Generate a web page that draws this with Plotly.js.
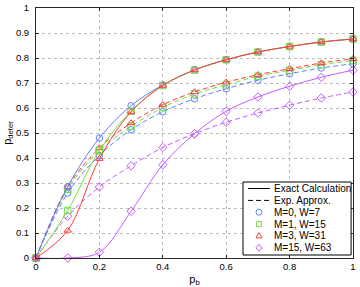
<!DOCTYPE html>
<html>
<head>
<meta charset="utf-8">
<script src="https://cdn.plot.ly/plotly-3.0.1.min.js"></script>
<style>html,body{margin:0;padding:0;background:#fff;}#chart{width:360px;height:287px;}</style>
</head>
<body>
<div id="chart"></div>
<script>
// ---- data ----
const pb = [0, 0.1, 0.2, 0.3, 0.4, 0.5, 0.6, 0.7, 0.8, 0.9, 1.0];

const exactM0  = [0, 0.285, 0.480, 0.609, 0.692, 0.752, 0.793, 0.824, 0.846, 0.864, 0.876];
const exactM1  = [0, 0.190, 0.430, 0.587, 0.690, 0.752, 0.793, 0.824, 0.846, 0.864, 0.876];
const exactM3  = [0, 0.110, 0.397, 0.585, 0.690, 0.752, 0.793, 0.824, 0.846, 0.864, 0.876];
const exactM15 = [0, 0.000, 0.023, 0.187, 0.373, 0.497, 0.587, 0.644, 0.687, 0.723, 0.751];

const approxM0  = [0, 0.260, 0.410, 0.513, 0.585, 0.637, 0.677, 0.711, 0.737, 0.760, 0.777];
const approxM1  = [0, 0.275, 0.430, 0.527, 0.602, 0.656, 0.693, 0.727, 0.751, 0.773, 0.790];
const approxM3  = [0, 0.285, 0.440, 0.540, 0.613, 0.664, 0.703, 0.733, 0.757, 0.780, 0.797];
const approxM15 = [0, 0.167, 0.284, 0.369, 0.442, 0.497, 0.543, 0.580, 0.611, 0.640, 0.664];

const seriesNames = ["M=0, W=7", "M=1, W=15", "M=3, W=31", "M=15, W=63"];
const lineNames = ["Exact Calculation", "Exp. Approx."];
const xTicks = [0, 0.2, 0.4, 0.6, 0.8, 1];
const xTickText = ["0", "0.2", "0.4", "0.6", "0.8", "1"];
const yTicks = [0, 0.1, 0.2, 0.3, 0.4, 0.5, 0.6, 0.7, 0.8, 0.9, 1];
const yTickText = ["0", "0.1", "0.2", "0.3", "0.4", "0.5", "0.6", "0.7", "0.8", "0.9", "1"];

// ---- styles ----
const colors = ["#5f80ff", "#72e03c", "#ff3b3b", "#c55cff"];
const symbols = ["circle-open", "square-open", "triangle-up-open", "diamond-open"];
const exact = [exactM0, exactM1, exactM3, exactM15];
const approx = [approxM0, approxM1, approxM3, approxM15];
const DASH = "5px,3px";

const traces = [];
for (let i = 0; i < 4; i++) {
  traces.push({
    x: pb, y: approx[i], type: "scatter", mode: "lines+markers",
    line: {color: colors[i], width: 1, dash: DASH, shape: "spline", smoothing: 1},
    marker: {symbol: symbols[i], size: 6.5, color: colors[i], line: {width: 1, color: colors[i]}},
    showlegend: false, hoverinfo: "skip", cliponaxis: false
  });
}
for (let i = 0; i < 4; i++) {
  traces.push({
    x: pb, y: exact[i], type: "scatter", mode: "lines+markers",
    line: {color: colors[i], width: 1, shape: "spline", smoothing: 1},
    marker: {symbol: symbols[i], size: 6.5, color: colors[i], line: {width: 1, color: colors[i]}},
    showlegend: false, hoverinfo: "skip", cliponaxis: false
  });
}

// ---- custom legend (layout geometry) ----
const L = {x0: 0.653, x1: 0.994, y0: 0.012, y1: 0.304,
           lx0: 0.669, lx1: 0.738, mx: 0.7035, tx: 0.746,
           rows: [0.278, 0.2304, 0.1832, 0.1356, 0.0884, 0.0408]};
const shapes = [
  {type: "rect", xref: "paper", yref: "paper", x0: L.x0, x1: L.x1, y0: L.y0, y1: L.y1,
   line: {color: "#000", width: 1}, fillcolor: "#fff", layer: "above"},
  {type: "line", xref: "paper", yref: "paper", x0: L.lx0, x1: L.lx1, y0: L.rows[0], y1: L.rows[0],
   line: {color: "#000", width: 1}, layer: "above"},
  {type: "line", xref: "paper", yref: "paper", x0: L.lx0, x1: L.lx1, y0: L.rows[1], y1: L.rows[1],
   line: {color: "#000", width: 1, dash: DASH}, layer: "above"}
];
const markerPaths = [
  null,
  "M-2.5,-2.5L2.5,-2.5L2.5,2.5L-2.5,2.5Z",
  "M0,3.3L3,-2L-3,-2Z",
  "M0,3.5L3,0L0,-3.5L-3,0Z"
];
for (let i = 0; i < 4; i++) {
  const base = {xref: "paper", yref: "paper", xsizemode: "pixel", ysizemode: "pixel",
    xanchor: L.mx, yanchor: L.rows[i + 2], line: {color: colors[i], width: 1}, layer: "above"};
  if (i === 0) shapes.push(Object.assign({type: "circle", x0: -3, x1: 3, y0: -3, y1: 3}, base));
  else shapes.push(Object.assign({type: "path", path: markerPaths[i]}, base));
}
const legendLabels = lineNames.concat(seriesNames);
const annotations = legendLabels.map((t, k) => ({
  text: t, xref: "paper", yref: "paper", x: L.tx, y: L.rows[k],
  xanchor: "left", yanchor: "middle", showarrow: false,
  font: {family: "Liberation Sans, Arial, sans-serif", size: 10, color: "#000"}
}));

const axisCommon = {
  range: [0, 1], showgrid: true, gridcolor: "#bdbdbd", griddash: "dot", gridwidth: 1,
  zeroline: false, showline: true, linecolor: "#262626", linewidth: 1, mirror: "ticks",
  ticks: "inside", ticklen: 3, tickcolor: "#262626", tickmode: "array",
  tickfont: {family: "Liberation Sans, Arial, sans-serif", size: 9.5, color: "#000"}
};

const layout = {
  width: 360, height: 287,
  margin: {l: 36, r: 7, t: 8, b: 29, pad: 0},
  paper_bgcolor: "#fff", plot_bgcolor: "#fff",
  showlegend: false,
  xaxis: Object.assign({}, axisCommon, {tickvals: xTicks, ticktext: xTickText,
    title: {text: "p<sub>b</sub>", standoff: 10,
      font: {family: "Liberation Sans, Arial, sans-serif", size: 11, color: "#000"}}}),
  yaxis: Object.assign({}, axisCommon, {tickvals: yTicks, ticktext: yTickText,
    ticklabelstandoff: 4,
    title: {text: "p<sub>deter</sub>", standoff: 2,
      font: {family: "Liberation Sans, Arial, sans-serif", size: 11, color: "#000"}}}),
  shapes: shapes,
  annotations: annotations
};

Plotly.newPlot("chart", traces, layout, {staticPlot: true, displayModeBar: false});
</script>
</body>
</html>
